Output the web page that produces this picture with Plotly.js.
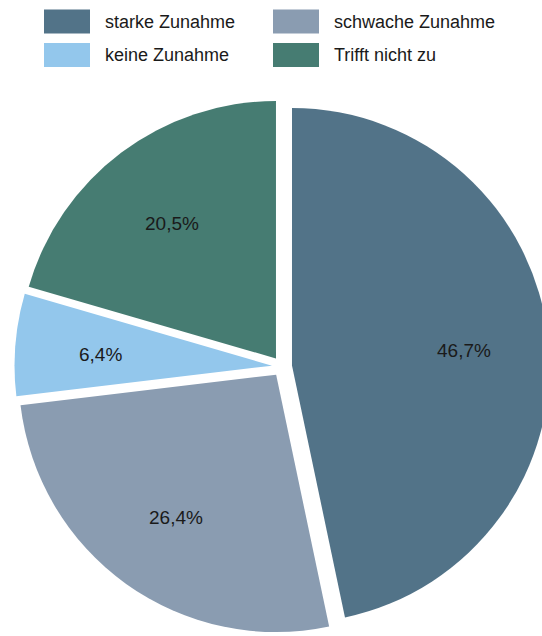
<!DOCTYPE html>
<html>
<head>
<meta charset="utf-8">
<script src="https://cdn.plot.ly/plotly-3.0.1.min.js"></script>
<style>
  html, body { margin: 0; padding: 0; overflow: hidden; background: #fff; }
  #chart { width: 560px; height: 636px; }
</style>
</head>
<body>
<div id="chart"></div>
<script>
// Data
const categories = ["starke Zunahme", "schwache Zunahme", "keine Zunahme", "Trifft nicht zu"];
const shares = [46.7, 26.4, 6.4, 20.5];
const colors = ["#527388", "#8a9cb1", "#93c7ec", "#467c72"];
// Legend layout order (two columns)
const legendOrder = ["starke Zunahme", "schwache Zunahme", "keine Zunahme", "Trifft nicht zu"];

const W = 560, H = 636;
const fontFamily = "Liberation Sans, Arial, sans-serif";
const pullFrac = 0.039;
const labelDist = 0.67; // label distance from slice apex, as fraction of radius
const domX = [14.5 / W, 549.5 / W];
const domY = [2 / H, 537 / H];

const labelsText = shares.map(v => v.toFixed(1).replace(".", ",") + "%");

const trace = {
  type: "pie",
  labels: categories,
  values: shares,
  text: labelsText,
  textinfo: "none",
  hoverinfo: "label+text",
  sort: false,
  direction: "clockwise",
  rotation: 0,
  pull: categories.map(() => pullFrac),
  marker: { colors: colors, line: { width: 0 } },
  domain: { x: domX, y: domY },
  showlegend: false
};

const shapes = [];
const annotations = [];

// Percentage labels placed along each slice's bisector (derived from the data)
const boxPx = Math.min((domX[1] - domX[0]) * W, (domY[1] - domY[0]) * H);
const rPx = boxPx / (2 + 2 * pullFrac);
const cxPx = W * (domX[0] + domX[1]) / 2;
const cyPx = H * (1 - (domY[0] + domY[1]) / 2);
const total = shares.reduce((a, b) => a + b, 0);
let cum = 0;
shares.forEach((v, i) => {
  const mid = (cum + v / 2) / total * 2 * Math.PI;
  cum += v;
  const d = rPx * (pullFrac + labelDist);
  const x = cxPx + d * Math.sin(mid);
  const y = cyPx - d * Math.cos(mid);
  annotations.push({
    xref: "paper", yref: "paper",
    x: x / W, y: 1 - y / H,
    xanchor: "center", yanchor: "middle",
    yshift: -3,
    text: labelsText[i], showarrow: false,
    font: { family: fontFamily, size: 19, color: "#1a1a1a" }
  });
});

// Custom legend with wide swatches
const colX = [44, 273];
const rowY = [9.5, 43];
const swW = 46, swH = 24;
legendOrder.forEach((name, i) => {
  const idx = categories.indexOf(name);
  const cx = colX[i % 2], cy = rowY[Math.floor(i / 2)];
  shapes.push({
    type: "rect", xref: "paper", yref: "paper",
    x0: cx / W, x1: (cx + swW) / W,
    y0: 1 - cy / H, y1: 1 - (cy + swH) / H,
    fillcolor: colors[idx], line: { width: 0 }
  });
  annotations.push({
    xref: "paper", yref: "paper",
    x: (cx + swW + 13) / W, y: 1 - (cy + swH / 2) / H,
    xanchor: "left", yanchor: "middle",
    text: name, showarrow: false,
    font: { family: fontFamily, size: 18, color: "#1a1a1a" }
  });
});

const layout = {
  width: W, height: H,
  margin: { l: 0, r: 0, t: 0, b: 0 },
  paper_bgcolor: "#ffffff",
  plot_bgcolor: "#ffffff",
  showlegend: false,
  shapes: shapes,
  annotations: annotations
};

Plotly.newPlot("chart", [trace], layout, { displayModeBar: false, staticPlot: true });
</script>
</body>
</html>
